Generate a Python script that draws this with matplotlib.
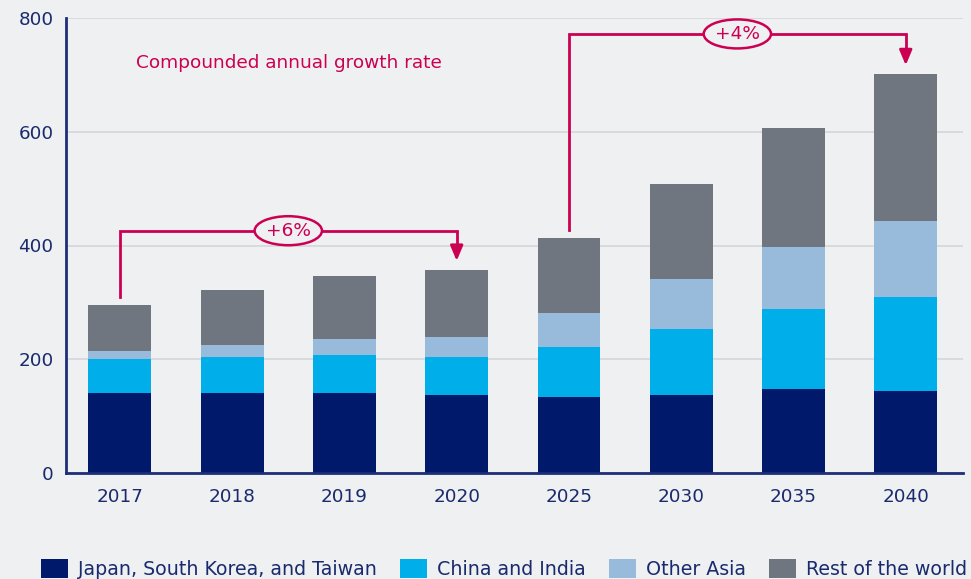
import matplotlib
matplotlib.use("Agg")
import matplotlib.pyplot as plt
from matplotlib.patches import Ellipse, Patch
import numpy as np

# Chart data
years = ["2017", "2018", "2019", "2020", "2025", "2030", "2035", "2040"]
series_names = ["Japan, South Korea, and Taiwan", "China and India", "Other Asia", "Rest of the world"]
japan_korea_taiwan = [140, 140, 140, 137, 133, 137, 147, 144]
china_india = [60, 64, 67, 67, 88, 116, 141, 165]
other_asia = [14, 21, 28, 35, 60, 88, 109, 134]
rest_of_world = [81, 96, 111, 118, 132, 167, 209, 258]
y_ticks = [0, 200, 400, 600, 800]

# CAGR brackets: (from index, to index, label)
growth_spans = [(0, 3, "+6%"), (4, 7, "+4%")]
growth_title = "Compounded annual growth rate"

bg = "#eff0f2"
colors = ["#00196b", "#00aeea", "#99bbdb", "#6f7680"]
navy_text = "#1a2b6d"
accent = "#cc0052"

plt.rcParams["font.family"] = ["DejaVu Sans"]

fig = plt.figure(figsize=(9.71, 5.79), dpi=100, facecolor=bg)
ax = fig.add_axes([66 / 971, 1 - 473 / 579, (963 - 66) / 971, (473 - 18) / 579])
ax.set_facecolor(bg)

x = np.arange(len(years))
stack = [japan_korea_taiwan, china_india, other_asia, rest_of_world]
bottom = np.zeros(len(years))
for vals, c, name in zip(stack, colors, series_names):
    ax.bar(x, vals, bottom=bottom, width=0.56, color=c, label=name, zorder=2)
    bottom += np.array(vals)
totals = bottom

ax.set_xlim(-0.48, 7.51)
ax.set_ylim(0, 800)
ax.set_yticks(y_ticks)
ax.set_xticks(x)
ax.set_xticklabels(years)
ax.tick_params(axis="both", length=0, labelsize=13.2, labelcolor=navy_text)
ax.tick_params(axis="y", pad=9)
ax.tick_params(axis="x", pad=11)
ax.yaxis.grid(True, color="#d6d8dc", linewidth=1.3, zorder=0)
ax.set_axisbelow(True)
for s in ["top", "right"]:
    ax.spines[s].set_visible(False)
for s in ["left", "bottom"]:
    ax.spines[s].set_color("#1e2e78")
    ax.spines[s].set_linewidth(2)
    ax.spines[s].set_zorder(3)

# Growth-rate annotation text
ax.text(0.14, 721, growth_title, color=accent, fontsize=13.3, va="center", ha="left")

# Brackets with arrows and ellipse labels
bracket_levels = [426, 772]
for (i0, i1, lab), level in zip(growth_spans, bracket_levels):
    x0, x1 = x[i0], x[i1]
    start = totals[i0] + 15
    tip = totals[i1] + 16
    ax.plot([x0, x0, x1, x1], [start, level, level, tip + 22],
            color=accent, linewidth=2, solid_joinstyle="miter", zorder=4)
    ax.annotate("", xy=(x1, tip), xytext=(x1, tip + 26),
                arrowprops=dict(arrowstyle="-|>,head_width=0.38,head_length=0.9",
                                color=accent, lw=2, shrinkA=0, shrinkB=0), zorder=5)
    xm = (x0 + x1) / 2
    ax.add_patch(Ellipse((xm, level), 0.6, 51, facecolor=bg, edgecolor=accent,
                         linewidth=1.8, zorder=6))
    ax.text(xm, level, lab, color=accent, fontsize=13.3, ha="center", va="center", zorder=7)

handles = [Patch(facecolor=c, edgecolor="none") for c in colors]
fig.legend(handles, series_names, loc="center", bbox_to_anchor=(504 / 971, 10 / 579),
           ncol=4, frameon=False, fontsize=13.65, labelcolor=navy_text,
           handlelength=1.43, handleheight=1.2, handletextpad=0.53, columnspacing=1.21,
           borderaxespad=0, borderpad=0)

fig.savefig("out.png", dpi=100, facecolor=bg)
